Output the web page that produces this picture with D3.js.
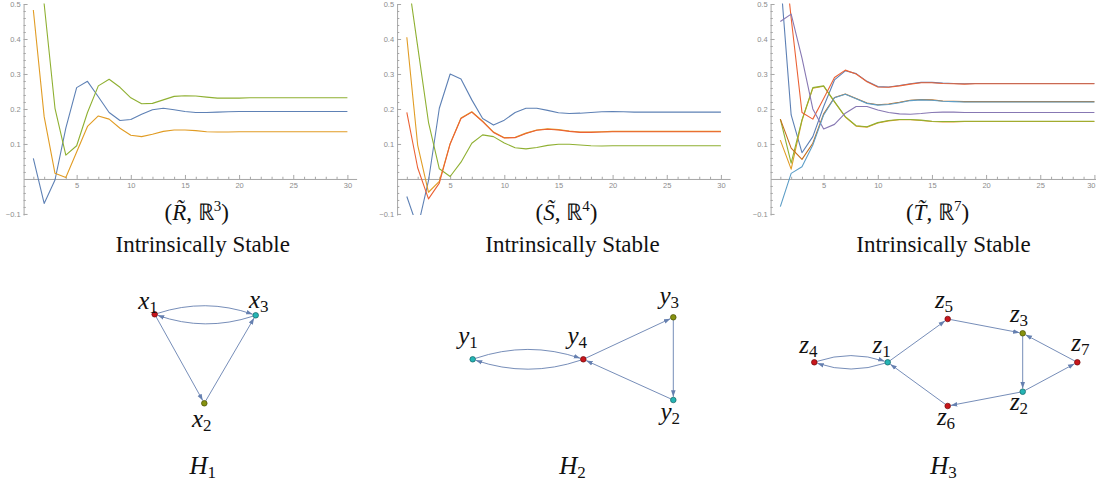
<!DOCTYPE html>
<html>
<head>
<meta charset="utf-8">
<script src="https://cdn.jsdelivr.net/npm/d3@7"></script>
<style>
  body { margin: 0; background: #fff; }
  svg { display: block; }
</style>
</head>
<body>
<div class="svgs"></div>
<script>
const width = 1096
const height = 487

// ---- data: line charts ----
const steps = [1, 2, 3, 4, 5, 6, 7, 8, 9, 10, 11, 12, 13, 14, 15, 16, 17, 18, 19, 20, 21, 22, 23, 24, 25, 26, 27, 28, 29, 30]
const yTickValues = [-0.1, 0.1, 0.2, 0.3, 0.4, 0.5]
const xTickValues = [5, 10, 15, 20, 25, 30]

// (R~, R^3)
const r1 = [0.059, -0.07, -0.003, 0.145, 0.261, 0.279, 0.235, 0.19, 0.167, 0.17, 0.185, 0.198, 0.202, 0.198, 0.193, 0.19, 0.19, 0.191, 0.192, 0.193, 0.193, 0.193, 0.193, 0.193, 0.193, 0.193, 0.193, 0.193, 0.193, 0.193]
const r2 = [0.483, 0.178, 0.016, 0.004, 0.077, 0.15, 0.18, 0.171, 0.145, 0.125, 0.121, 0.128, 0.136, 0.14, 0.14, 0.138, 0.135, 0.134, 0.134, 0.135, 0.135, 0.135, 0.135, 0.135, 0.135, 0.135, 0.135, 0.135, 0.135, 0.135]
const r3 = [0.75, 0.5, 0.202, 0.068, 0.095, 0.19, 0.266, 0.285, 0.262, 0.232, 0.215, 0.216, 0.226, 0.236, 0.238, 0.237, 0.234, 0.231, 0.231, 0.231, 0.232, 0.232, 0.232, 0.232, 0.232, 0.232, 0.232, 0.232, 0.232, 0.232]

// (S~, R^4)
const s1 = [-0.05, -0.14, -0.005, 0.202, 0.3, 0.286, 0.226, 0.173, 0.154, 0.168, 0.19, 0.202, 0.202, 0.196, 0.189, 0.187, 0.188, 0.19, 0.192, 0.193, 0.192, 0.191, 0.191, 0.191, 0.191, 0.191, 0.191, 0.191, 0.191, 0.191]
const s2 = [0.405, 0.097, -0.038, -0.007, 0.101, 0.174, 0.192, 0.165, 0.134, 0.118, 0.119, 0.131, 0.14, 0.143, 0.141, 0.137, 0.134, 0.134, 0.135, 0.136, 0.136, 0.136, 0.136, 0.136, 0.136, 0.136, 0.136, 0.136, 0.136, 0.136]
const s3 = [0.596, 0.379, 0.162, 0.029, 0.007, 0.048, 0.102, 0.126, 0.121, 0.103, 0.089, 0.086, 0.09, 0.096, 0.099, 0.099, 0.097, 0.095, 0.094, 0.095, 0.095, 0.095, 0.095, 0.095, 0.095, 0.095, 0.095, 0.095, 0.095, 0.095]
const s4 = [0.19, 0.032, -0.057, -0.012, 0.1, 0.173, 0.191, 0.164, 0.133, 0.117, 0.118, 0.13, 0.139, 0.142, 0.14, 0.136, 0.133, 0.133, 0.134, 0.135, 0.135, 0.135, 0.135, 0.135, 0.135, 0.135, 0.135, 0.135, 0.135, 0.135]

// (T~, R^7)
const t1 = [0.58, 0.183, 0.075, 0.121, 0.207, 0.283, 0.309, 0.301, 0.279, 0.264, 0.263, 0.267, 0.272, 0.276, 0.276, 0.274, 0.273, 0.272, 0.273, 0.273, 0.273, 0.273, 0.273, 0.273, 0.273, 0.273, 0.273, 0.273, 0.273, 0.273]
const t2 = [0.111, 0.028, 0.167, 0.259, 0.265, 0.22, 0.177, 0.151, 0.148, 0.16, 0.166, 0.169, 0.169, 0.167, 0.164, 0.163, 0.163, 0.164, 0.164, 0.164, 0.164, 0.164, 0.164, 0.164, 0.164, 0.164, 0.164, 0.164, 0.164, 0.164]
const t3 = [0.171, 0.045, 0.169, 0.261, 0.266, 0.221, 0.178, 0.152, 0.149, 0.161, 0.167, 0.17, 0.17, 0.168, 0.165, 0.164, 0.164, 0.165, 0.165, 0.165, 0.165, 0.165, 0.165, 0.165, 0.165, 0.165, 0.165, 0.165, 0.165, 0.165]
const t4 = [0.75, 0.46, 0.19, 0.171, 0.23, 0.29, 0.311, 0.3, 0.278, 0.263, 0.262, 0.266, 0.271, 0.275, 0.275, 0.273, 0.272, 0.271, 0.272, 0.272, 0.272, 0.272, 0.272, 0.272, 0.272, 0.272, 0.272, 0.272, 0.272, 0.272]
const t5 = [0.45, 0.471, 0.345, 0.2, 0.143, 0.156, 0.188, 0.207, 0.207, 0.197, 0.19, 0.186, 0.185, 0.187, 0.19, 0.191, 0.191, 0.19, 0.19, 0.19, 0.19, 0.19, 0.19, 0.19, 0.19, 0.19, 0.19, 0.19, 0.19, 0.19]
const t6 = [0.171, 0.088, 0.056, 0.102, 0.186, 0.233, 0.243, 0.23, 0.217, 0.212, 0.214, 0.219, 0.225, 0.227, 0.226, 0.223, 0.222, 0.221, 0.221, 0.221, 0.221, 0.221, 0.221, 0.221, 0.221, 0.221, 0.221, 0.221, 0.221, 0.221]
const t7 = [-0.079, 0.016, 0.035, 0.097, 0.183, 0.232, 0.242, 0.229, 0.216, 0.211, 0.213, 0.218, 0.224, 0.226, 0.225, 0.222, 0.221, 0.22, 0.22, 0.22, 0.22, 0.22, 0.22, 0.22, 0.22, 0.22, 0.22, 0.22, 0.22, 0.22]

const panelSeries = [[r1, r2, r3], [s1, s2, s3, s4], [t1, t2, t3, t4, t5, t6, t7]]
const panelLetters = ["R", "S", "T"]
const panelPowers = ["3", "4", "7"]
const caption = "Intrinsically Stable"

// ---- data: graphs (layout units) ----
const h1Nodes = [
    {id: "x1", name: "x", sub: "1", gx: 0, gy: 0, kind: "red"},
    {id: "x3", name: "x", sub: "3", gx: 1.01, gy: 0.01, kind: "teal"},
    {id: "x2", name: "x", sub: "2", gx: 0.496, gy: 0.89, kind: "olive"}
]
const h1Edges = [["x1", "x3"], ["x3", "x1"], ["x1", "x2"], ["x2", "x3"]]

const h2Nodes = [
    {id: "y1", name: "y", sub: "1", gx: 0, gy: 0, kind: "teal"},
    {id: "y4", name: "y", sub: "4", gx: 1.106, gy: 0, kind: "red"},
    {id: "y3", name: "y", sub: "3", gx: 2.006, gy: -0.42, kind: "olive"},
    {id: "y2", name: "y", sub: "2", gx: 2.006, gy: 0.407, kind: "teal"}
]
const h2Edges = [["y1", "y4"], ["y4", "y1"], ["y4", "y3"], ["y3", "y2"], ["y2", "y4"]]

const h3Nodes = [
    {id: "z4", name: "z", sub: "4", gx: 0, gy: 0, kind: "red"},
    {id: "z1", name: "z", sub: "1", gx: 0.734, gy: 0, kind: "teal"},
    {id: "z5", name: "z", sub: "5", gx: 1.334, gy: -0.433, kind: "red"},
    {id: "z3", name: "z", sub: "3", gx: 2.084, gy: -0.29, kind: "olive"},
    {id: "z7", name: "z", sub: "7", gx: 2.63, gy: 0, kind: "red"},
    {id: "z2", name: "z", sub: "2", gx: 2.084, gy: 0.294, kind: "teal"},
    {id: "z6", name: "z", sub: "6", gx: 1.334, gy: 0.437, kind: "red"}
]
const h3Edges = [["z4", "z1"], ["z1", "z4"], ["z1", "z5"], ["z5", "z3"], ["z3", "z2"], ["z7", "z3"], ["z2", "z7"], ["z2", "z6"], ["z6", "z1"]]

const graphs = [[h1Nodes, h1Edges], [h2Nodes, h2Edges], [h3Nodes, h3Edges]]
const graphNames = ["1", "2", "3"]

// ---- drawing ----
const colors = ["#5e81b5", "#e19c24", "#8fb032", "#eb6235", "#8778b3", "#c56e1a", "#5d9ec7"]
const chartLeft = [22.5, 396, 769.5]     // pixel of step 0 in each panel
const unit = 10.83                        // px per step
const textCenters = [202.7, 572.5, 943.5]
const serif = "'Liberation Serif', 'Times New Roman', serif"
const sans = "'Liberation Sans', Arial, sans-serif"

const svg = d3.select(".svgs").append("svg")
    .attr("width", width)
    .attr("height", height)

const y = d3.scaleLinear().domain([-0.103, 0.5]).range([215, 4])

panelSeries.forEach((seriesList, i) => {
    const left = chartLeft[i]
    const x = d3.scaleLinear()
        .domain([0.1, 30.85])
        .range([left + 0.1 * unit, left + 30.85 * unit])

    const g = svg.append("g")

    svg.append("clipPath").attr("id", "clip" + i)
        .append("rect")
        .attr("x", x(0.1)).attr("y", y(0.5) - 0.5)
        .attr("width", x(30.85) - x(0.1)).attr("height", y(-0.103) - y(0.5) + 0.5)

    // minor ticks
    g.append("g")
        .attr("transform", `translate(${x(0.1)},0)`)
        .call(d3.axisLeft(y).tickValues(d3.range(-10, 51, 2).filter(v => v % 10 != 0).map(v => v / 100))
            .tickSize(-2.2).tickFormat(""))
        .call(g => g.select(".domain").remove())
        .call(g => g.selectAll("line").attr("stroke", "#a6a6a6"))

    g.append("g")
        .attr("transform", `translate(0,${y(0)})`)
        .call(d3.axisBottom(x).tickValues(steps.filter(v => v % 5 != 0)).tickSize(-2.2).tickFormat(""))
        .call(g => g.select(".domain").remove())
        .call(g => g.selectAll("line").attr("stroke", "#a6a6a6"))

    // major ticks + labels
    g.append("g")
        .attr("transform", `translate(${x(0.1)},0)`)
        .call(d3.axisLeft(y).tickValues(yTickValues).tickSizeInner(-4).tickSizeOuter(0).tickPadding(3)
            .tickFormat(d3.format(".1f")))
        .call(g => g.select(".domain").attr("stroke", "#a6a6a6"))
        .call(g => g.selectAll("line").attr("stroke", "#a6a6a6"))
        .call(g => g.selectAll("text").attr("fill", "#8c8c8c").style("font-size", "7.5px").style("font-family", sans))

    g.append("g")
        .attr("transform", `translate(0,${y(0)})`)
        .call(d3.axisBottom(x).tickValues(xTickValues).tickSizeInner(-4).tickSizeOuter(0).tickPadding(4))
        .call(g => g.select(".domain").attr("stroke", "#a6a6a6"))
        .call(g => g.selectAll("line").attr("stroke", "#a6a6a6"))
        .call(g => g.selectAll("text").attr("fill", "#8c8c8c").style("font-size", "7.5px").style("font-family", sans))
        // keep the last label inside the page
        .call(g => g.selectAll(".tick text").filter(d => x(d) + 5 > width)
            .attr("text-anchor", "end").attr("x", width - x(30) - 1))

    const line = d3.line()
        .x((d, j) => x(steps[j]))
        .y(d => y(d))

    const lines = g.append("g").attr("clip-path", `url(#clip${i})`)
    seriesList.forEach((values, k) => {
        lines.append("path")
            .datum(values)
            .attr("fill", "none")
            .attr("stroke", colors[k])
            .attr("stroke-width", 1.1)
            .attr("stroke-linejoin", "round")
            .attr("d", line)
    })

    // title  (X~, R^n)
    const title = svg.append("text")
        .attr("x", textCenters[i] - 6)
        .attr("y", 220)
        .attr("text-anchor", "middle")
        .attr("font-family", serif)
        .style("font-size", "23px")
        .attr("fill", "#111")
    title.append("tspan").text("(")
    title.append("tspan").style("font-style", "italic").text(panelLetters[i] + "\u0303")
    title.append("tspan").text(", \u211D")
    title.append("tspan").attr("dy", -9).style("font-size", "15px").text(panelPowers[i])
    title.append("tspan").attr("dy", 9).text(")")

    svg.append("text")
        .attr("x", textCenters[i])
        .attr("y", 251.5)
        .attr("text-anchor", "middle")
        .attr("font-family", serif)
        .style("font-size", "23px")
        .attr("fill", "#111")
        .text(caption)
})

// ---- graphs ----
const graphOrigin = [[154.7, 314.3], [472.7, 359.3], [814.3, 362.3]]
const nodeFill = {red: "#c8161c", teal: "#25b4b4", olive: "#86920f"}
const nodeStroke = {red: "#6e0a0a", teal: "#136363", olive: "#474e05"}
const labelOffset = {
    x1: [-6.7, -5.5], x3: [3, -7], x2: [-2.6, 23.4],
    y1: [-4.7, -15], y4: [-6, -15], y3: [-4, -13], y2: [-3, 20],
    z4: [-6, -9], z1: [-6, -9], z5: [-3.7, -11], z3: [-3.7, -11], z7: [3, -11], z2: [-3.7, 18.5], z6: [-1.7, 19]
}
const edgeColor = "#6680b0"
const nodeR = 2.8

svg.append("defs").append("marker")
    .attr("id", "arrow")
    .attr("viewBox", "0 -3 7 6")
    .attr("refX", 6.5).attr("refY", 0)
    .attr("markerWidth", 7).attr("markerHeight", 6)
    .attr("markerUnits", "userSpaceOnUse")
    .attr("orient", "auto")
    .append("path")
    .attr("d", "M0,-2.3L6.5,0L0,2.3Z")
    .attr("fill", edgeColor)

graphs.forEach(([nodes, edges], i) => {
    const [ox, oy] = graphOrigin[i]
    const gx = d3.scaleLinear().domain([0, 1]).range([ox, ox + 100])
    const gy = d3.scaleLinear().domain([0, 1]).range([oy, oy + 100])
    const byId = new Map(nodes.map(n => [n.id, n]))
    const g = svg.append("g")

    edges.forEach(([a, b]) => {
        const s = byId.get(a), t = byId.get(b)
        const x1 = gx(s.gx), y1 = gy(s.gy), x2 = gx(t.gx), y2 = gy(t.gy)
        const dx = x2 - x1, dy = y2 - y1
        const len = Math.hypot(dx, dy)
        const twoWay = edges.some(([p, q]) => p == b && q == a)
        let d
        if (twoWay) {
            // bend to the left of the direction of travel
            const k = 0.17
            const cx = (x1 + x2) / 2 + dy * k
            const cy = (y1 + y2) / 2 - dx * k
            const ex = x2 - cx, ey = y2 - cy, el = Math.hypot(ex, ey)
            const sx = cx - x1, sy = cy - y1, sl = Math.hypot(sx, sy)
            d = `M${x1 + sx / sl * nodeR},${y1 + sy / sl * nodeR}Q${cx},${cy} ${x2 - ex / el * (nodeR + 0.4)},${y2 - ey / el * (nodeR + 0.4)}`
        } else {
            d = `M${x1 + dx / len * nodeR},${y1 + dy / len * nodeR}L${x2 - dx / len * (nodeR + 0.4)},${y2 - dy / len * (nodeR + 0.4)}`
        }
        g.append("path")
            .attr("d", d)
            .attr("fill", "none")
            .attr("stroke", edgeColor)
            .attr("stroke-width", 0.9)
            .attr("marker-end", "url(#arrow)")
    })

    g.selectAll("circle")
        .data(nodes)
        .enter().append("circle")
        .attr("cx", d => gx(d.gx))
        .attr("cy", d => gy(d.gy))
        .attr("r", nodeR)
        .attr("fill", d => nodeFill[d.kind])
        .attr("stroke", d => nodeStroke[d.kind])
        .attr("stroke-width", 0.7)

    nodes.forEach(n => {
        const [ldx, ldy] = labelOffset[n.id]
        const t = g.append("text")
            .attr("x", gx(n.gx) + ldx)
            .attr("y", gy(n.gy) + ldy)
            .attr("text-anchor", "middle")
            .attr("font-family", serif)
            .style("font-size", "25px")
            .attr("fill", "#111")
        t.append("tspan").style("font-style", "italic").text(n.name)
        t.append("tspan").attr("dy", 4).style("font-size", "17px").text(n.sub)
    })

    const h = svg.append("text")
        .attr("x", textCenters[i])
        .attr("y", 474)
        .attr("text-anchor", "middle")
        .attr("font-family", serif)
        .style("font-size", "25px")
        .attr("fill", "#111")
    h.append("tspan").style("font-style", "italic").text("H")
    h.append("tspan").attr("dy", 4).style("font-size", "17px").text(graphNames[i])
})
</script>
</body>
</html>
